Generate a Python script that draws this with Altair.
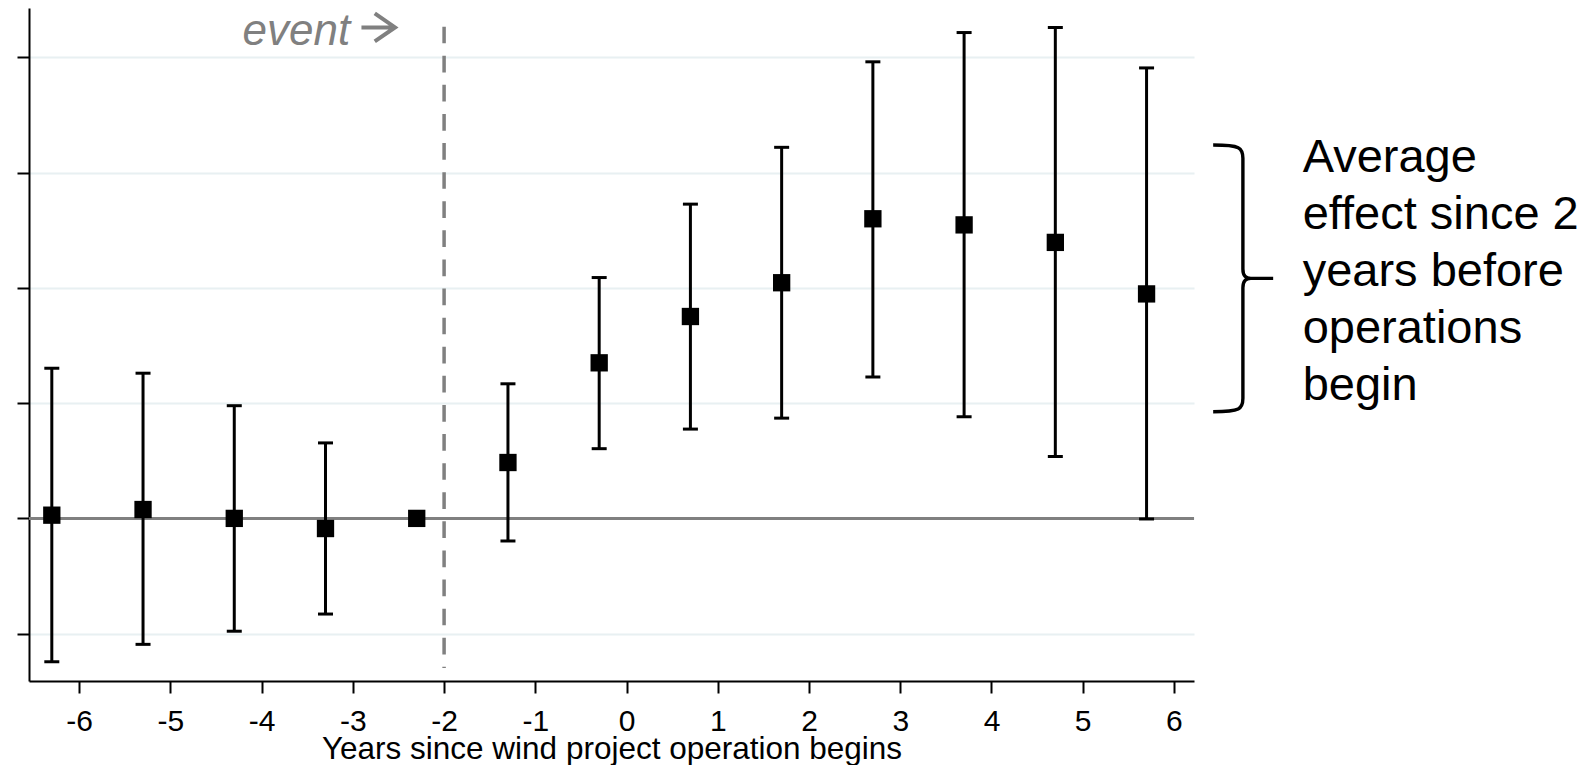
import altair as alt
import pandas as pd

# ---- data ----
x_pos = [-6.3, -5.3, -4.3, -3.3, -2.3, -1.3, -0.3, 0.7, 1.7, 2.7, 3.7, 4.7, 5.7]
estimate = [0.028, 0.077, 0.0, -0.088, 0.0, 0.485, 1.35, 1.752, 2.045, 2.60, 2.547, 2.395, 1.948]
ci_low = [-1.244, -1.093, -0.979, -0.83, None, -0.196, 0.605, 0.775, 0.87, 1.227, 0.882, 0.537, -0.005]
ci_high = [1.303, 1.26, 0.978, 0.655, None, 1.168, 2.09, 2.727, 3.22, 3.962, 4.216, 4.26, 3.909]

x_ticks = list(range(-6, 7))
y_ticks = [-1, 0, 1, 2, 3, 4]
x_domain = [-6.55, 6.22]
y_domain = [-1.411, 4.429]

event_x = [-2]
event_top = [4.267]
event_bottom = [-1.298]
event_word = ["event"]
event_word_x = [-4.21]
event_label_y = [4.108]
event_arrow_x = [-2.714]
event_arrow_y = [4.26]

note_lines = ["Average", "effect since 2", "years before", "operations", "begin"]
note_x = [7.411]
note_y = [3.008]
brace_x = [6.756]
brace_y = [2.083]

x_title = "Years since wind project operation begins"

FONT = "Liberation Sans"

df = pd.DataFrame({"x": x_pos, "est": estimate, "lo": ci_low, "hi": ci_high})

xs = alt.Scale(domain=x_domain, nice=False, zero=False)
ys = alt.Scale(domain=y_domain, nice=False, zero=False)

x_axis = alt.Axis(
    values=x_ticks, labelExpr="toString(datum.value)", labelFont=FONT,
    labelFontSize=30, labelColor="black", labelPadding=13, labelFlush=False,
    labelOverlap=False, tickSize=12, tickWidth=2, tickColor="black",
    domainColor="black", domainWidth=2, grid=False, title=x_title,
    titleFont=FONT, titleFontSize=31.5, titleFontWeight="normal",
    titleColor="black", titleBaseline="alphabetic", titleY=77,
)
y_axis = alt.Axis(
    values=y_ticks, labels=False, tickSize=12, tickWidth=2, tickColor="black",
    domainColor="black", domainWidth=2, grid=True, gridColor="#e8f0f2",
    gridWidth=2, title="",
)


def X(field):
    return alt.X(field, type="quantitative", scale=xs, axis=x_axis)


def Y(field):
    return alt.Y(field, type="quantitative", scale=ys, axis=y_axis)


zero_line = alt.Chart(pd.DataFrame({"y": [0]})).mark_rule(
    color="#808080", strokeWidth=3
).encode(y=Y("y"))

event_line = alt.Chart(
    pd.DataFrame({"x": event_x, "y": event_top, "y2": event_bottom})
).mark_rule(color="#808080", strokeWidth=3.5, strokeDash=[16.7, 12.4]).encode(
    x=X("x"), y=Y("y"), y2="y2:Q",
)

ci = alt.Chart(df).transform_filter("isValid(datum.lo)")

bars = ci.mark_rule(color="black", strokeWidth=3).encode(
    x=X("x"), y=Y("lo"), y2="hi:Q",
)
caps_lo = ci.mark_tick(orient="horizontal", size=15, thickness=3, color="black", opacity=1).encode(
    x=X("x"), y=Y("lo"),
)
caps_hi = ci.mark_tick(orient="horizontal", size=15, thickness=3, color="black", opacity=1).encode(
    x=X("x"), y=Y("hi"),
)

points = alt.Chart(df).mark_square(size=300, color="black", opacity=1).encode(
    x=X("x"), y=Y("est"),
)

event_text = alt.Chart(
    pd.DataFrame({"x": event_word_x, "y": event_label_y, "t": event_word})
).mark_text(
    align="left", baseline="alphabetic", font=FONT, fontStyle="italic",
    fontSize=44, color="#808080",
).encode(x=X("x"), y=Y("y"), text="t:N")

arrow_path = "M -1 0 L 0.92 0 M -0.24 -0.8 L 0.92 0 L -0.24 0.8"
event_arrow = alt.Chart(
    pd.DataFrame({"x": event_arrow_x, "y": event_arrow_y})
).mark_point(
    shape=arrow_path, size=1225, filled=False, strokeWidth=4,
    color="#808080", opacity=1, strokeJoin="miter", strokeCap="butt",
).encode(x=X("x"), y=Y("y"))

note_text = alt.Chart(
    pd.DataFrame({"x": note_x, "y": note_y, "t": [note_lines]})
).mark_text(
    align="left", baseline="alphabetic", font=FONT, fontSize=47,
    lineHeight=57, color="black",
).encode(x=X("x"), y=Y("y"), text="t")

brace_path = (
    "M -0.223 -1 C -0.02 -1 0 -0.98 0 -0.9 L 0 -0.07 "
    "C 0 -0.02 0.02 0 0.06 0 L 0.227 0 M 0.06 0 "
    "C 0.02 0 0 0.02 0 0.07 L 0 0.9 C 0 0.98 -0.02 1 -0.223 1"
)
brace = alt.Chart(pd.DataFrame({"x": brace_x, "y": brace_y})).mark_point(
    shape=brace_path, size=71100, filled=False, strokeWidth=3.4,
    color="black", opacity=1,
).encode(x=X("x"), y=Y("y"))

chart = (
    alt.layer(zero_line, event_line, bars, caps_lo, caps_hi, points,
              event_text, event_arrow, note_text, brace)
    .properties(
        width=1165, height=673,
        autosize=alt.AutoSizeParams(type="none"),
        padding={"left": 21, "top": 0, "right": 391, "bottom": 84},
        background="white",
    )
    .configure_view(stroke="transparent")
)

chart.save("out.html", embed_options={"renderer": "svg", "actions": False})
